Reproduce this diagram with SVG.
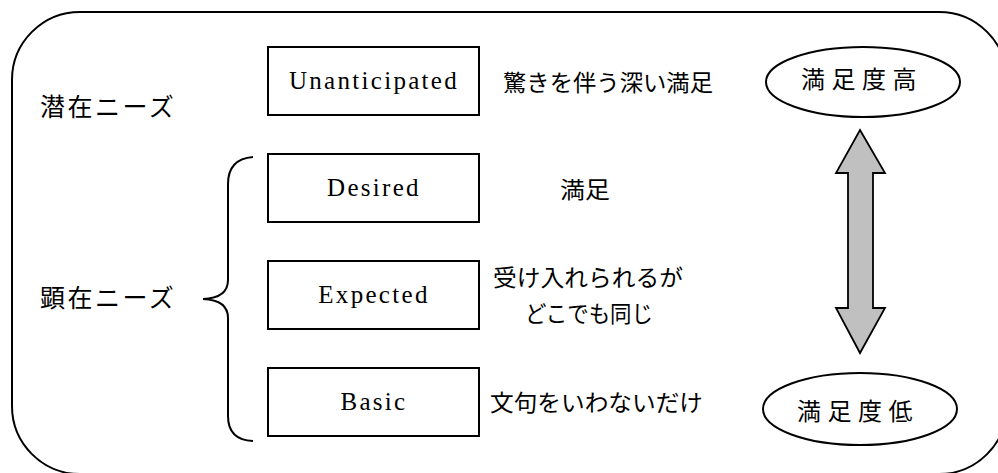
<svg xmlns="http://www.w3.org/2000/svg" width="998" height="473" viewBox="0 0 998 473">
<style>
.ln{fill:none;stroke:#000;stroke-width:2}
.box{fill:#fff;stroke:#000;stroke-width:2}
.en{font-family:"Liberation Serif","DejaVu Serif","Times New Roman",serif;font-size:25px;letter-spacing:2.3px;text-anchor:middle;fill:#000}
.jp{font-family:"Noto Sans CJK JP","Noto Sans",sans-serif;font-size:23px;fill:#000}
.jpw{font-family:"Noto Sans CJK JP","Noto Sans",sans-serif;font-size:25px;letter-spacing:2.5px;fill:#000}
.jpe{font-family:"Noto Sans CJK JP","Noto Sans",sans-serif;font-size:24px;letter-spacing:6.5px;fill:#000}
</style>
<rect width="998" height="473" fill="#fff"/>
<g id="frame"><rect class="ln" x="12" y="12" width="995" height="462" rx="68" ry="68"/></g>
<g id="latent"><text class="jpw" x="40" y="116">潜在ニーズ</text></g>
<g id="manifest"><text class="jpw" x="40" y="307">顕在ニーズ</text></g>
<g id="unanticipated"><rect class="box" x="268" y="47" width="211" height="68"/><text class="en" x="374" y="89" font-family="Liberation Serif, DejaVu Serif, serif">Unanticipated</text></g>
<g id="desired"><rect class="box" x="268" y="154" width="211" height="68"/><text class="en" x="374" y="196" font-family="Liberation Serif, DejaVu Serif, serif">Desired</text></g>
<g id="expected"><rect class="box" x="268" y="261" width="211" height="68"/><text class="en" x="374" y="303" font-family="Liberation Serif, DejaVu Serif, serif">Expected</text></g>
<g id="basic"><rect class="box" x="268" y="368" width="211" height="68"/><text class="en" x="374" y="410" font-family="Liberation Serif, DejaVu Serif, serif">Basic</text></g>
<g id="desc">
<text class="jp" x="503" y="91" textLength="210" lengthAdjust="spacingAndGlyphs">驚きを伴う深い満足</text>
<text class="jp" x="560" y="198" textLength="50" lengthAdjust="spacingAndGlyphs">満足</text>
<text class="jp" x="493" y="286" textLength="190" lengthAdjust="spacingAndGlyphs">受け入れられるが</text>
<text class="jp" x="525" y="322" textLength="128" lengthAdjust="spacingAndGlyphs">どこでも同じ</text>
<text class="jp" x="490" y="411" textLength="213" lengthAdjust="spacingAndGlyphs">文句をいわないだけ</text>
</g>
<g id="high"><ellipse class="box" cx="863" cy="82" rx="97" ry="35"/><text class="jpe" x="801" y="88">満足度高</text></g>
<g id="low"><ellipse class="box" cx="860" cy="409" rx="97" ry="36"/><text class="jpe" x="797" y="420">満足度低</text></g>
<g id="connectors">
<path class="ln" d="M253,157 Q228,159 228,184 L228,280 Q228,298 203,299 Q228,300 228,318 L228,416 Q228,440 253,441"/>
<polygon points="860,130 885,173 873,173 873,308 885,308 860,353 836,308 848,308 848,173 836,173" fill="#c0c0c0" stroke="#000" stroke-width="1.8" stroke-linejoin="miter"/>
</g>
</svg>
